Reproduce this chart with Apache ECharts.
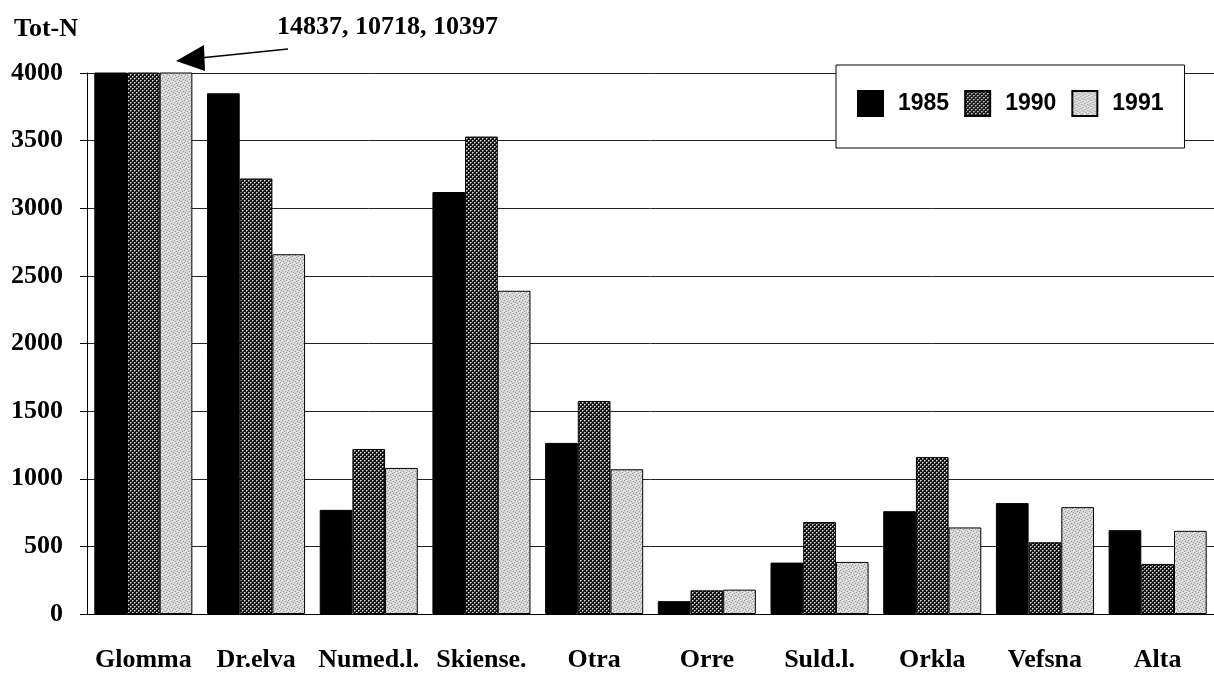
<!DOCTYPE html>
<html>
<head>
<meta charset="utf-8">
<script src="https://cdn.jsdelivr.net/npm/echarts@6/dist/echarts.min.js"></script>
<style>
  html, body { margin: 0; padding: 0; background: #fff; }
  #main { width: 1214px; height: 673px; }
</style>
</head>
<body>
<div id="main"></div>
<script>
// rivers and Tot-N load per year
const rivers = ['Glomma', 'Dr.elva', 'Numed.l.', 'Skiense.', 'Otra', 'Orre', 'Suld.l.', 'Orkla', 'Vefsna', 'Alta'];
const years = ['1985', '1990', '1991'];
const tot1985 = [14837, 3850, 770, 3120, 1265, 95, 380, 760, 820, 620];
const tot1990 = [10718, 3220, 1220, 3530, 1575, 175, 680, 1160, 530, 370];
const tot1991 = [10397, 2660, 1080, 2390, 1070, 180, 385, 640, 790, 615];
const yTicks = [0, 500, 1000, 1500, 2000, 2500, 3000, 3500, 4000];

const serif = '"Liberation Serif", "Times New Roman", serif';
const sans = '"Liberation Sans", Arial, sans-serif';

// dotted dark fill for 1990
function dotPattern() {
  const c = document.createElement('canvas');
  c.width = 4; c.height = 4;
  const g = c.getContext('2d');
  g.fillStyle = '#151515';
  g.fillRect(0, 0, 4, 4);
  g.fillStyle = '#e8e8e8';
  g.fillRect(0, 0, 1, 1);
  g.fillRect(2, 2, 1, 1);
  g.fillStyle = '#808080';
  g.fillRect(1, 0, 1, 1);
  g.fillRect(0, 1, 1, 1);
  g.fillRect(3, 2, 1, 1);
  g.fillRect(2, 3, 1, 1);
  return c;
}

// light grey stipple for 1991
function stipplePattern() {
  const c = document.createElement('canvas');
  c.width = 6; c.height = 6;
  const g = c.getContext('2d');
  g.fillStyle = '#d6d6d6';
  g.fillRect(0, 0, 6, 6);
  g.fillStyle = '#9a9a9a';
  [[0, 0], [3, 1], [1, 3], [4, 4], [5, 2], [2, 5]].forEach(p => g.fillRect(p[0], p[1], 1, 1));
  g.fillStyle = '#f2f2f2';
  [[2, 0], [5, 5], [0, 4], [3, 3]].forEach(p => g.fillRect(p[0], p[1], 1, 1));
  return c;
}

const chart = echarts.init(document.getElementById('main'), null, { renderer: 'canvas' });

const fills = [
  '#000',
  { image: dotPattern(), repeat: 'repeat' },
  { image: stipplePattern(), repeat: 'repeat' }
];
const values = [tot1985, tot1990, tot1991];

const option = {
  animation: false,
  backgroundColor: '#fff',
  title: [
    {
      text: 'Tot-N',
      left: 14, top: 16, padding: 0,
      textStyle: { fontFamily: serif, fontSize: 26, fontWeight: 'bold', color: '#000' }
    },
    {
      // off-scale values for Glomma
      text: [tot1985[0], tot1990[0], tot1991[0]].join(', '),
      left: 277, top: 14, padding: 0,
      textStyle: { fontFamily: serif, fontSize: 26, fontWeight: 'bold', color: '#000' }
    }
  ],
  legend: {
    data: years,
    left: 836, top: 65,
    width: 360,
    padding: [25, 21, 31, 21],
    itemWidth: 25, itemHeight: 25, itemGap: 15,
    icon: 'rect',
    borderColor: '#000', borderWidth: 1,
    backgroundColor: '#fff',
    textStyle: { fontFamily: sans, fontSize: 23, fontWeight: 'bold', color: '#000', padding: [0, 0, 0, 10] }
  },
  grid: { left: 87, top: 73, width: 1135, height: 542 },
  xAxis: {
    type: 'category',
    data: rivers,
    axisLine: { lineStyle: { color: '#000', width: 1 } },
    axisTick: { length: 8, lineStyle: { color: '#000' } },
    axisLabel: { interval: 0, margin: 33, fontFamily: serif, fontSize: 26, fontWeight: 'bold', color: '#000' }
  },
  yAxis: {
    type: 'value',
    min: yTicks[0], max: yTicks[yTicks.length - 1], interval: yTicks[1] - yTicks[0],
    axisLine: { show: true, lineStyle: { color: '#000', width: 1 } },
    axisTick: { show: true, length: 7, lineStyle: { color: '#000' } },
    axisLabel: {
      margin: 24, fontFamily: serif, fontSize: 26, fontWeight: 'bold', color: '#000',
      formatter: v => String(v)
    },
    splitLine: { lineStyle: { color: '#222', width: 1 } }
  },
  series: years.map((y, i) => ({
    name: y,
    type: 'bar',
    data: values[i],
    clip: true,
    barGap: '0%',
    barCategoryGap: '13%',
    itemStyle: { color: fills[i], borderColor: '#000', borderWidth: 1 }
  })),
  graphic: [
    {
      type: 'line',
      shape: { x1: 288, y1: 49, x2: 200, y2: 58 },
      style: { stroke: '#000', lineWidth: 1.5 }
    },
    {
      type: 'polygon',
      shape: { points: [[176, 61], [204, 45], [205, 71]] },
      style: { fill: '#000' }
    }
  ]
};

chart.setOption(option);
</script>
</body>
</html>
